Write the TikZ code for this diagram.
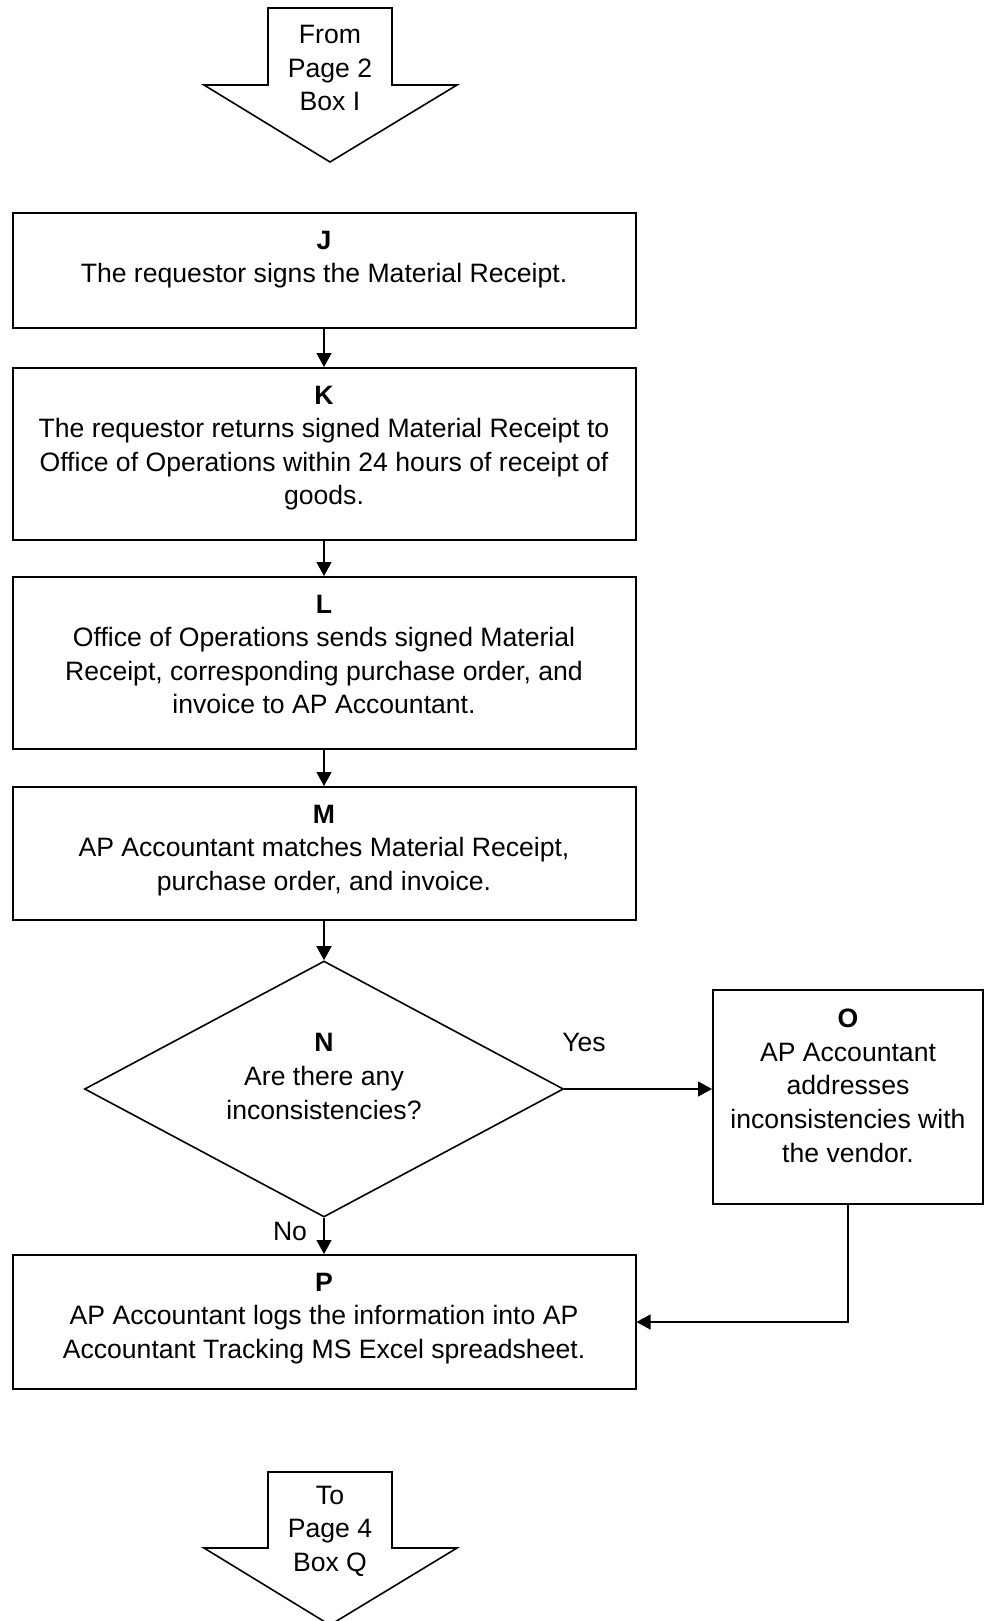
\documentclass[tikz,border=0pt]{standalone}
\usepackage{fontspec}
\setmainfont{Liberation Sans}
\usetikzlibrary{positioning, arrows.meta, shapes.geometric}

\begin{document}
\begin{tikzpicture}[x=50pt, y=50pt,
      font=\fontsize{13.3pt}{16.8pt}\selectfont,
      box/.style={draw, line width=1pt, anchor=north, inner sep=0pt,
          minimum width=311.5pt, align=center},
      decision/.style={draw, diamond, line width=0.8pt, aspect=1.87,
          inner sep=0pt, minimum width=239.5pt, minimum height=128pt,
          align=center, text height=44pt, text depth=14pt},
      pageref/.style={draw, line width=0.8pt, fill=white},
      arr/.style={-{Triangle[length=7pt, width=7.5pt]}, line width=0.65pt},
    ]
    \useasboundingbox (0,0) rectangle (9.84,-16.21);

    %% --- Off-page connector (top) ---
    \draw[pageref] (2.68,-0.08) -- (3.92,-0.08) -- (3.92,-0.85) -- (4.57,-0.85)
      -- (3.30,-1.62) -- (2.04,-0.85) -- (2.68,-0.85) -- cycle;
    \node[align=center] (from) at (3.30,-0.68) {From\\Page 2\\Box I};

    %% --- Main column ---
    \node[box, text height=34.8pt, text depth=22.7pt] (J) at (3.24,-2.12)
    {\textbf{J}\\The requestor signs the Material Receipt.};
    \node[box, text height=68.4pt, text depth=17.6pt] (K) at (3.24,-3.67)
    {\textbf{K}\\The requestor returns signed Material Receipt to\\Office of Operations within 24 hours of receipt of\\goods.};
    \node[box, text height=68.4pt, text depth=17.6pt] (L) at (3.24,-5.76)
    {\textbf{L}\\Office of Operations sends signed Material\\Receipt, corresponding purchase order, and\\invoice to AP Accountant.};
    \node[box, text height=51.6pt, text depth=14.9pt] (M) at (3.24,-7.86)
    {\textbf{M}\\AP Accountant matches Material Receipt,\\purchase order, and invoice.};
    \node[decision] (N) at (3.24,-10.89)
    {\textbf{N}\\Are there any\\inconsistencies?};
    \node[box, text height=86pt, text depth=21pt, minimum width=135pt] (O) at (8.48,-9.89)
    {\textbf{O}\\AP Accountant\\addresses\\inconsistencies with\\the vendor.};
    \node[box, text height=51.6pt, text depth=15.4pt] (P) at (3.24,-12.54)
    {\textbf{P}\\AP Accountant logs the information into AP\\Accountant Tracking MS Excel spreadsheet.};

    \draw[arr] (J) -- (K);
    \draw[arr] (K) -- (L);
    \draw[arr] (L) -- (M);
    \draw[arr] (M) -- (N);
    \draw[arr] (N.east) -- (N.east -| O.west);
    \draw[arr] (N) -- (P);
    \draw[arr] (O.south) |- (P.east);

    \node (yes) at (5.84,-10.42) {Yes};
    \node (no) at (2.90,-12.31) {No};

    %% --- Off-page connector (bottom) ---
    \draw[pageref] (2.68,-14.72) -- (3.92,-14.72) -- (3.92,-15.48) -- (4.57,-15.48)
      -- (3.30,-16.25) -- (2.04,-15.48) -- (2.68,-15.48) -- cycle;
    \node[align=center] (to) at (3.30,-15.31) {To\\Page 4\\Box Q};

  \end{tikzpicture}
\end{document}
